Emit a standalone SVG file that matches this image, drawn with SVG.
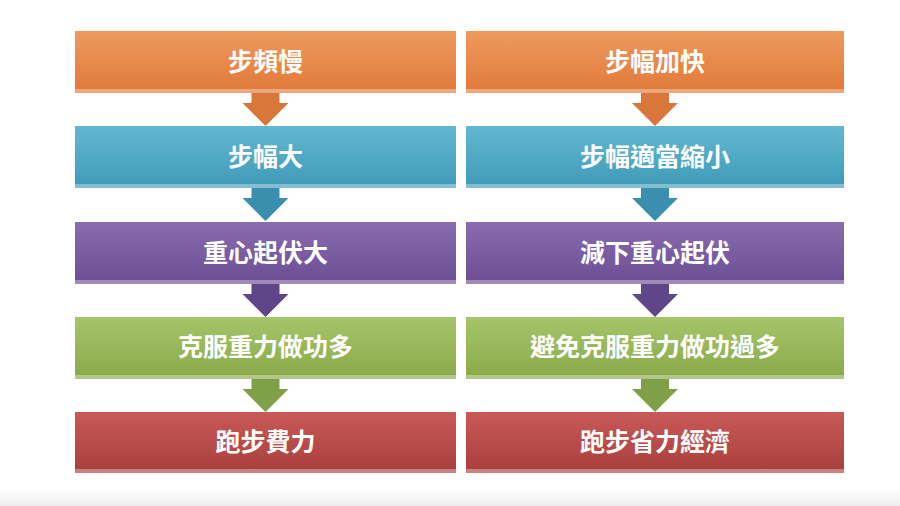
<svg xmlns="http://www.w3.org/2000/svg" width="900" height="506" viewBox="0 0 900 506">
<defs>
<linearGradient id="gO" x1="0" y1="0" x2="0" y2="1"><stop offset="0" stop-color="#EE9A5C"/><stop offset="1" stop-color="#E0793A"/></linearGradient>
<linearGradient id="gB" x1="0" y1="0" x2="0" y2="1"><stop offset="0" stop-color="#62B8D2"/><stop offset="1" stop-color="#3F9AB8"/></linearGradient>
<linearGradient id="gP" x1="0" y1="0" x2="0" y2="1"><stop offset="0" stop-color="#8A6DB0"/><stop offset="1" stop-color="#6A4D93"/></linearGradient>
<linearGradient id="gG" x1="0" y1="0" x2="0" y2="1"><stop offset="0" stop-color="#A6C56A"/><stop offset="1" stop-color="#88A94A"/></linearGradient>
<linearGradient id="gR" x1="0" y1="0" x2="0" y2="1"><stop offset="0" stop-color="#C85A57"/><stop offset="1" stop-color="#A83F3D"/></linearGradient>
<linearGradient id="floor" x1="0" y1="0" x2="0" y2="1"><stop offset="0" stop-color="#FFFFFF"/><stop offset="1" stop-color="#EDEDED"/></linearGradient>
<path id="arr" d="M-14,0 H14 V10 H23 L0,33 L-23,10 H-14 Z"/>
</defs>
<style>
.t{font-family:"Noto Sans CJK TC","Noto Sans CJK SC",sans-serif;font-weight:bold;font-size:25px;fill:#FFFFFF;text-anchor:middle}
.edge{fill:#FFFFFF;opacity:0.35}
</style>
<rect width="900" height="506" fill="#FFFFFF"/>
<rect x="0" y="488" width="900" height="18" fill="url(#floor)"/>
<g id="connectors">
<use href="#arr" x="265.5" y="93" fill="#D9763A"/>
<use href="#arr" x="655" y="93" fill="#D9763A"/>
<use href="#arr" x="265.5" y="188" fill="#3A8FAE"/>
<use href="#arr" x="655" y="188" fill="#3A8FAE"/>
<use href="#arr" x="265.5" y="284" fill="#5F4688"/>
<use href="#arr" x="655" y="284" fill="#5F4688"/>
<use href="#arr" x="265.5" y="379" fill="#7FA047"/>
<use href="#arr" x="655" y="379" fill="#7FA047"/>
</g>
<g id="L1"><rect x="75" y="31" width="381" height="62" fill="url(#gO)"/><rect class="edge" x="75" y="89" width="381" height="4"/><text class="t" x="265.5" y="71">步頻慢</text></g>
<g id="R1"><rect x="466" y="31" width="378" height="62" fill="url(#gO)"/><rect class="edge" x="466" y="89" width="378" height="4"/><text class="t" x="655" y="71">步幅加快</text></g>
<g id="L2"><rect x="75" y="126" width="381" height="62" fill="url(#gB)"/><rect class="edge" x="75" y="184" width="381" height="4"/><text class="t" x="265.5" y="166">步幅大</text></g>
<g id="R2"><rect x="466" y="126" width="378" height="62" fill="url(#gB)"/><rect class="edge" x="466" y="184" width="378" height="4"/><text class="t" x="655" y="166">步幅適當縮小</text></g>
<g id="L3"><rect x="75" y="222" width="381" height="62" fill="url(#gP)"/><rect class="edge" x="75" y="280" width="381" height="4"/><text class="t" x="265.5" y="262">重心起伏大</text></g>
<g id="R3"><rect x="466" y="222" width="378" height="62" fill="url(#gP)"/><rect class="edge" x="466" y="280" width="378" height="4"/><text class="t" x="655" y="262">減下重心起伏</text></g>
<g id="L4"><rect x="75" y="317" width="381" height="62" fill="url(#gG)"/><rect class="edge" x="75" y="375" width="381" height="4"/><text class="t" x="265.5" y="356">克服重力做功多</text></g>
<g id="R4"><rect x="466" y="317" width="378" height="62" fill="url(#gG)"/><rect class="edge" x="466" y="375" width="378" height="4"/><text class="t" x="655" y="356">避免克服重力做功過多</text></g>
<g id="L5"><rect x="75" y="412" width="381" height="61" fill="url(#gR)"/><rect class="edge" x="75" y="469" width="381" height="4"/><text class="t" x="265.5" y="451">跑步費力</text></g>
<g id="R5"><rect x="466" y="412" width="378" height="61" fill="url(#gR)"/><rect class="edge" x="466" y="469" width="378" height="4"/><text class="t" x="655" y="451">跑步省力經濟</text></g>
</svg>
